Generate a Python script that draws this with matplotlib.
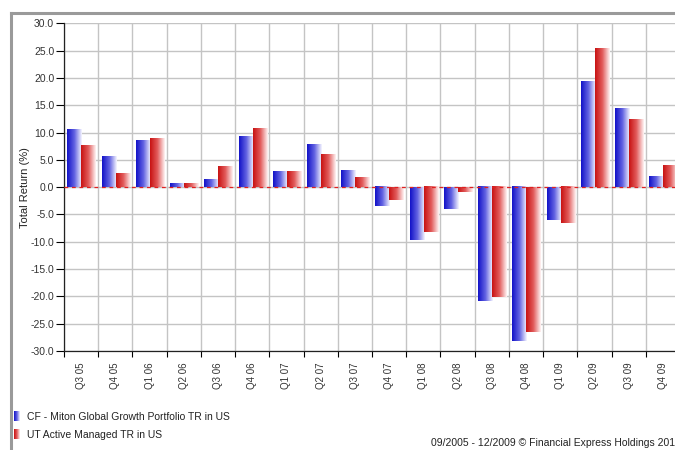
import numpy as np
import matplotlib
matplotlib.use("Agg")
import matplotlib.pyplot as plt
from matplotlib.colors import LinearSegmentedColormap
from matplotlib.lines import Line2D

categories = ["Q3 05", "Q4 05", "Q1 06", "Q2 06", "Q3 06", "Q4 06", "Q1 07", "Q2 07", "Q3 07",
              "Q4 07", "Q1 08", "Q2 08", "Q3 08", "Q4 08", "Q1 09", "Q2 09", "Q3 09", "Q4 09"]
miton = [10.6, 5.5, 8.5, 0.7, 1.4, 9.3, 2.9, 7.7, 3.0,
         -3.5, -9.6, -4.0, -20.9, -28.2, -6.0, 19.3, 14.3, 1.9]
active = [7.6, 2.4, 8.8, 0.6, 3.7, 10.7, 2.8, 6.0, 1.8,
          -2.3, -8.3, -0.9, -20.2, -26.5, -6.6, 25.3, 12.3, 3.9]
series_names = ["CF - Miton Global Growth Portfolio TR in US", "UT Active Managed TR in US"]
yticks = [30.0, 25.0, 20.0, 15.0, 10.0, 5.0, 0.0, -5.0, -10.0, -15.0, -20.0, -25.0, -30.0]

plt.rcParams['font.family'] = ['Liberation Sans', 'DejaVu Sans']

W, H = 675, 450
fig = plt.figure(figsize=(6.75, 4.5), dpi=100)

def fx(px):
    return px / W

def fy(py):
    return 1 - py / H

ax = fig.add_axes([fx(64), fy(351), fx(680) - fx(64), fy(23.3) - fy(351)])

blue_cmap = LinearSegmentedColormap.from_list("b", ["#1212c8", "#6262e2", "#f6f6ff"])
red_cmap = LinearSegmentedColormap.from_list("r", ["#c81212", "#e25c5c", "#fff4f4"])
grad = np.linspace(0, 1, 64).reshape(1, -1)

x = np.arange(len(categories))
bw = 0.41
bars_b = ax.bar(x - 0.195, miton, width=bw, facecolor='none', edgecolor='none', zorder=3)
bars_r = ax.bar(x + 0.215, active, width=bw, facecolor='none', edgecolor='none', zorder=3)

for bars, cmap in ((bars_b, blue_cmap), (bars_r, red_cmap)):
    for p in bars:
        x0, y0 = p.get_x(), p.get_y()
        w, h = p.get_width(), p.get_height()
        ax.imshow(grad, cmap=cmap, aspect='auto', interpolation='bilinear',
                  extent=[x0, x0 + w, min(y0, y0 + h), max(y0, y0 + h)], zorder=3)

ax.set_xlim(-0.5, len(categories) - 0.5)
ax.set_ylim(-30, 30)
ax.set_yticks(yticks)
ax.set_yticklabels([f"{v:.1f}" for v in yticks])
ax.set_xticks(x)
ax.set_xticklabels(categories, rotation=90, fontsize=7, color="#333333")
ax.set_xticks(np.arange(len(categories) + 1) - 0.5, minor=True)
ax.tick_params(axis='x', which='major', length=0, pad=8.5)
ax.tick_params(axis='x', which='minor', length=4, width=0.8, direction='out')
ax.tick_params(axis='y', length=6, width=0.8, pad=1, labelsize=7.5, labelcolor="#333333")

ax.grid(True, which='major', axis='y', color='#c4c4c4', linewidth=1, zorder=0)
ax.grid(True, which='minor', axis='x', color='#c4c4c4', linewidth=1, zorder=0)
ax.set_axisbelow(True)

for s in ('top', 'right'):
    ax.spines[s].set_visible(False)
ax.spines['left'].set_color('#222222')
ax.spines['bottom'].set_color('#222222')
ax.spines['left'].set_linewidth(0.9)
ax.spines['bottom'].set_linewidth(0.9)

ax.axhline(0, color='#e02020', linewidth=0.9, linestyle=(0, (3, 3)), zorder=4)

ax.set_ylabel("Total Return (%)", fontsize=8, color="#222222")
ax.yaxis.set_label_coords((30 - 64) / (680 - 64), 0.5)

# frame lines
fig.add_artist(Line2D([fx(10.5), fx(10.5)], [fy(13), 0], color='#9a9a9a', linewidth=2.2))
fig.add_artist(Line2D([fx(10.5), 1], [fy(13.3), fy(13.3)], color='#9a9a9a', linewidth=2.2))

# legend
for i, (name, cmap) in enumerate(zip(series_names, (blue_cmap, red_cmap))):
    top = 411 + i * 18
    lax = fig.add_axes([fx(14), fy(top + 10), fx(6), 10 / H])
    lax.imshow(grad, cmap=cmap, aspect='auto', interpolation='bilinear')
    lax.axis('off')
    fig.text(fx(27), fy(top + 5.5), name, fontsize=7.5, color="#222222", va='center', ha='left')

fig.text(fx(675), fy(443), "09/2005 - 12/2009 \u00a9 Financial Express Holdings 201",
         fontsize=7.5, color="#222222", va='center', ha='right')

fig.savefig("out.png", dpi=100)
